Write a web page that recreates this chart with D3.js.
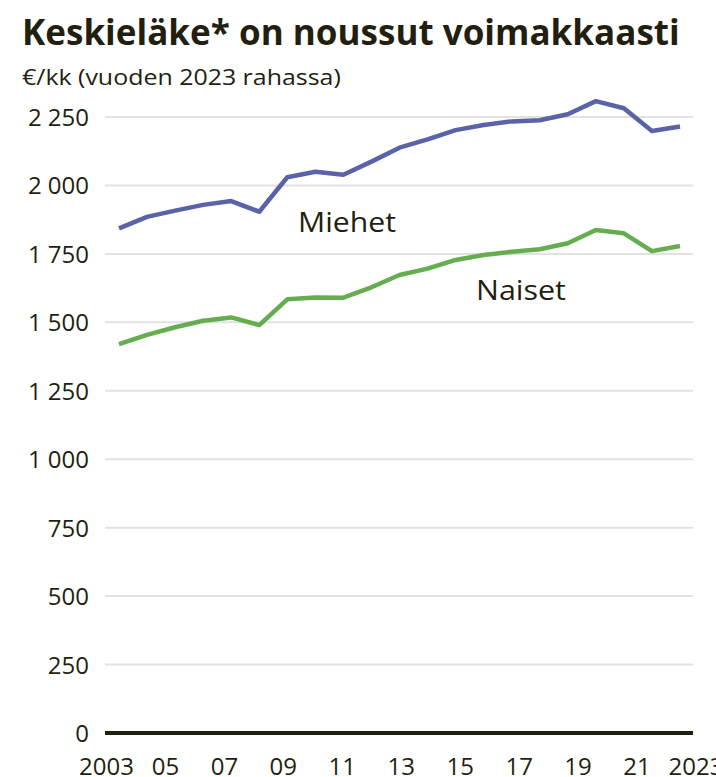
<!DOCTYPE html>
<html><head><meta charset="utf-8">
<script src="https://cdn.jsdelivr.net/npm/d3@7"></script>
<style>
body{margin:0;background:#fff;overflow:hidden;}
svg{display:block;}
text{font-family:"Open Sans","Noto Sans",sans-serif;fill:#231f10;}
</style></head>
<body>
<svg id="c" width="716" height="777"></svg>
<script>
const years = d3.range(2003, 2024);
const miehet = [1843,1885,1908,1929,1943,1904,2030,2050,2039,2087,2138,2168,2202,2221,2234,2238,2260,2308,2282,2199,2215];
const naiset = [1420,1454,1482,1506,1518,1490,1584,1591,1590,1628,1673,1696,1728,1746,1758,1767,1789,1837,1825,1760,1779];
const yTicks = [0,250,500,750,1000,1250,1500,1750,2000,2250];
const xTickYears = [2003,2005,2007,2009,2011,2013,2015,2017,2019,2021,2023];
const xTickLabels = ["2003","05","07","09","11","13","15","17","19","21","2023"];
const title = "Keskieläke* on noussut voimakkaasti";
const subtitle = "€/kk (vuoden 2023 rahassa)";

const svg = d3.select("#c");
const y = d3.scaleLinear().domain([0,2250]).range([733,117]);
const x = d3.scaleLinear().domain([2003,2023]).range([119,680]);
const xl = d3.scaleLinear().domain([2003,2023]).range([106.5,696]);

function fit(sel, w){
  const n = sel.node(); const L = n.getComputedTextLength();
  const x0 = +sel.attr("x"), y0 = +sel.attr("y");
  sel.attr("transform", `translate(${x0},${y0}) scale(${w/L},1) translate(${-x0},${-y0})`);
}

const t = svg.append("text").attr("x",22).attr("y",45).attr("font-size",36).attr("font-weight",700).text(title);
fit(t, 658);
const s = svg.append("text").attr("x",22).attr("y",85).attr("font-size",22).text(subtitle);
fit(s, 319);

// grid
svg.append("g").selectAll("line").data(yTicks.filter(d=>d>0)).join("line")
  .attr("x1",105).attr("x2",693).attr("y1",d=>y(d)).attr("y2",d=>y(d))
  .attr("stroke","#e2e2e2").attr("stroke-width",2);

// y axis labels
const fmt = d => d3.format(",")(d).replace(/,/g," ");
svg.append("g").selectAll("text").data(yTicks).join("text")
  .attr("x",89).attr("y",d=>y(d)+9).attr("text-anchor","end").attr("font-size",24)
  .text(fmt);

// x labels
svg.append("g").selectAll("text").data(xTickYears).join("text")
  .attr("x",d=>xl(d)).attr("y",775).attr("text-anchor","middle").attr("font-size",24)
  .text((d,i)=>xTickLabels[i]);

// lines
const line = d3.line().x((d,i)=>x(years[i])).y(d=>y(d));
svg.append("path").datum(miehet).attr("d",line).attr("fill","none").attr("stroke","#5b63a8").attr("stroke-width",4.5).attr("stroke-linejoin","round");
svg.append("path").datum(naiset).attr("d",line).attr("fill","none").attr("stroke","#66ad50").attr("stroke-width",4.5).attr("stroke-linejoin","round");

// zero axis
svg.append("line").attr("x1",105).attr("x2",693).attr("y1",y(0)).attr("y2",y(0)).attr("stroke","#231f10").attr("stroke-width",4);

// series labels
const m = svg.append("text").attr("x",298).attr("y",232).attr("font-size",28).text("Miehet"); fit(m,98);
const n = svg.append("text").attr("x",476).attr("y",300).attr("font-size",28).text("Naiset"); fit(n,90);
</script>
</body></html>
